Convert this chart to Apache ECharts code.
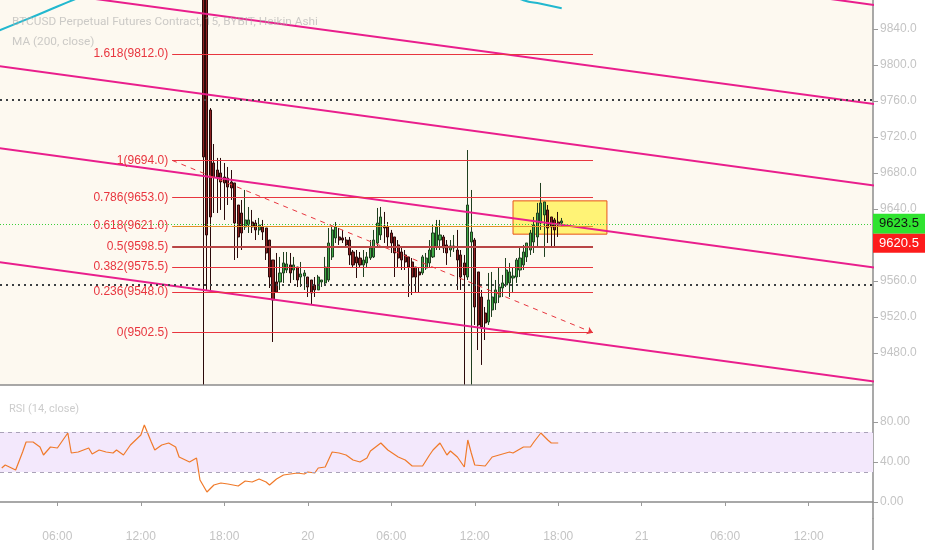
<!DOCTYPE html>
<html><head><meta charset="utf-8">
<script src="https://cdn.jsdelivr.net/npm/echarts@6/dist/echarts.min.js"></script>
<style>html,body{margin:0;padding:0;background:#fff}#c{width:932px;height:550px}</style>
</head><body><div id="c"></div>
<script>
// ---- time axis: 15-minute bars, bar 0 = 19th 02:00 ----
const barCount = 251;
const firstBarMinutes = 120;
const categories = [];
for (let i = 0; i < barCount; i++) {
  const m = firstBarMinutes + 15 * i;
  const day = 19 + Math.floor(m / 1440);
  const hm = m % 1440;
  const h = Math.floor(hm / 60), mi = hm % 60;
  categories.push(hm === 0 ? String(day) : (h < 10 ? '0' : '') + h + ':' + (mi < 10 ? '0' : '') + mi);
}

// ---- Heikin Ashi candles [open, close, low, high], first one at bar 58 ----
const candleFirstBar = 58;
const candles = [
  [9894.4, 9697.8, 9445.0, 9905.5],
  [9883.3, 9611.1, 9550.0, 9894.4],
  [9750.0, 9631.1, 9550.0, 9752.2],
  [9691.1, 9675.5, 9635.5, 9712.2],
  [9683.3, 9675.5, 9635.5, 9696.7],
  [9680.0, 9670.0, 9638.9, 9696.7],
  [9675.5, 9668.9, 9627.8, 9691.1],
  [9674.4, 9664.4, 9644.4, 9686.7],
  [9670.0, 9663.3, 9650.0, 9683.3],
  [9668.9, 9624.4, 9583.3, 9668.9],
  [9644.4, 9608.9, 9585.5, 9644.4],
  [9635.5, 9613.3, 9594.4, 9650.0],
  [9620.0, 9627.8, 9616.7, 9661.1],
  [9622.2, 9627.8, 9613.3, 9642.2],
  [9625.5, 9620.0, 9613.3, 9638.9],
  [9624.4, 9616.7, 9605.5, 9627.8],
  [9616.7, 9622.2, 9611.1, 9630.0],
  [9620.0, 9614.4, 9605.5, 9627.8],
  [9618.9, 9591.1, 9583.3, 9618.9],
  [9605.5, 9564.4, 9552.2, 9605.5],
  [9583.3, 9538.9, 9492.2, 9583.3],
  [9558.9, 9547.8, 9546.7, 9591.1],
  [9558.9, 9568.9, 9550.0, 9586.7],
  [9568.9, 9580.0, 9557.8, 9592.2],
  [9572.2, 9578.9, 9568.9, 9592.2],
  [9577.8, 9568.9, 9557.8, 9591.1],
  [9572.2, 9577.8, 9561.1, 9586.7],
  [9575.5, 9561.1, 9553.3, 9575.5],
  [9564.4, 9567.8, 9553.3, 9581.1],
  [9565.5, 9568.9, 9550.0, 9572.2],
  [9564.4, 9553.3, 9542.2, 9564.4],
  [9561.1, 9546.7, 9533.3, 9561.1],
  [9555.5, 9550.0, 9542.2, 9564.4],
  [9550.0, 9564.4, 9550.0, 9566.7],
  [9558.9, 9561.1, 9553.3, 9561.1],
  [9557.8, 9575.5, 9555.5, 9586.7],
  [9561.1, 9602.2, 9558.9, 9618.9],
  [9586.7, 9616.7, 9583.3, 9620.0],
  [9607.8, 9620.0, 9602.2, 9625.5],
  [9608.9, 9605.5, 9600.0, 9618.9],
  [9607.8, 9605.5, 9602.2, 9616.7],
  [9605.5, 9600.0, 9596.7, 9608.9],
  [9605.5, 9588.9, 9577.8, 9608.9],
  [9592.2, 9577.8, 9575.5, 9594.4],
  [9586.7, 9580.0, 9563.3, 9594.4],
  [9585.5, 9577.8, 9574.4, 9592.2],
  [9577.8, 9583.3, 9564.4, 9594.4],
  [9580.0, 9586.7, 9575.5, 9592.2],
  [9585.5, 9596.7, 9583.3, 9605.5],
  [9586.7, 9605.5, 9585.5, 9616.7],
  [9602.2, 9624.4, 9597.8, 9641.1],
  [9611.1, 9631.1, 9605.5, 9642.2],
  [9621.1, 9618.9, 9602.2, 9636.7],
  [9620.0, 9608.9, 9597.8, 9625.5],
  [9613.3, 9602.2, 9591.1, 9616.7],
  [9608.9, 9591.1, 9564.4, 9608.9],
  [9600.0, 9585.5, 9574.4, 9605.5],
  [9592.2, 9583.3, 9572.2, 9597.8],
  [9588.9, 9581.1, 9572.2, 9594.4],
  [9586.7, 9575.5, 9542.2, 9586.7],
  [9581.1, 9564.4, 9544.4, 9585.5],
  [9575.5, 9564.4, 9546.7, 9575.5],
  [9570.0, 9566.7, 9546.7, 9574.4],
  [9568.9, 9586.7, 9566.7, 9588.9],
  [9574.4, 9585.5, 9572.2, 9591.1],
  [9580.0, 9594.4, 9575.5, 9605.5],
  [9586.7, 9613.3, 9585.5, 9622.2],
  [9597.8, 9620.0, 9594.4, 9627.8],
  [9605.5, 9611.1, 9594.4, 9627.8],
  [9608.9, 9596.7, 9591.1, 9611.1],
  [9600.0, 9591.1, 9577.8, 9605.5],
  [9594.4, 9598.9, 9586.7, 9605.5],
  [9596.7, 9598.9, 9592.2, 9611.1],
  [9594.4, 9583.3, 9550.0, 9616.7],
  [9588.9, 9564.4, 9550.0, 9594.4],
  [9580.0, 9566.7, 9445.0, 9588.9],
  [9564.4, 9644.4, 9561.1, 9705.5],
  [9603.3, 9614.4, 9445.0, 9661.1],
  [9605.5, 9531.1, 9511.1, 9607.8],
  [9570.0, 9511.1, 9483.3, 9570.0],
  [9542.2, 9508.9, 9466.7, 9550.0],
  [9524.4, 9513.3, 9494.4, 9531.1],
  [9514.4, 9538.9, 9511.1, 9568.9],
  [9527.8, 9542.2, 9520.0, 9570.0],
  [9535.5, 9550.0, 9527.8, 9561.1],
  [9542.2, 9553.3, 9535.5, 9575.5],
  [9552.2, 9557.8, 9542.2, 9566.7],
  [9555.5, 9572.2, 9553.3, 9585.5],
  [9557.8, 9570.0, 9542.2, 9580.0],
  [9563.3, 9565.5, 9546.7, 9575.5],
  [9564.4, 9583.3, 9557.8, 9585.5],
  [9572.2, 9585.5, 9564.4, 9596.7],
  [9577.8, 9592.2, 9572.2, 9600.0],
  [9586.7, 9602.2, 9581.1, 9602.2],
  [9594.4, 9613.3, 9588.9, 9616.7],
  [9603.3, 9622.2, 9591.1, 9631.1],
  [9608.9, 9635.5, 9597.8, 9646.7],
  [9624.4, 9646.7, 9616.7, 9668.9],
  [9633.3, 9647.8, 9586.7, 9647.8],
  [9638.9, 9618.9, 9602.2, 9644.4],
  [9631.1, 9620.0, 9597.8, 9631.1],
  [9627.8, 9616.7, 9597.8, 9630.0],
  [9625.5, 9622.2, 9608.9, 9636.7],
  [9624.4, 9626.7, 9620.0, 9630.0]
];

// ---- MA (200) visible pieces: [bar, value] ----
const maBarsA = [-1, 8, 16, 21, 26];
const maValsA = [9838, 9852, 9865, 9873, 9881];
const maBarsB = [146, 150, 155, 161];
const maValsB = [9879, 9872, 9868, 9863];

// ---- RSI (14): [bar, value] ----
const rsiBars = [0,1,4,6,7,9,11,12,14,16,17,19,20,22,25,26,28,30,32,33,35,37,40,41,43,44,46,48,50,51,54,56,57,59,61,63,65,68,70,72,74,76,77,79,81,83,85,87,88,90,91,93,95,97,99,101,103,105,106,109,111,114,116,118,121,123,124,126,128,129,131,133,134,135,136,139,141,143,146,147,150,152,153,155,157,158,160];
const rsiVals = [34,37,32,50,60,60,55,47,55,54,59,69,49,50,54,48,52,50,49,52,47,57,67,77,60,52,57,59,55,45,40,44,22,10,17,19,18,16,21,20,23,20,17,23,27,28,29,28,30,29,34,35,50,49,47,42,40,44,51,59,52,45,42,36,36,47,52,59,47,51,45,35,62,49,37,36,45,47,50,49,55,55,60,69,62,59,59];

// ---- Fibonacci retracement ----
const fibRatios = ['1.618', '1', '0.786', '0.618', '0.5', '0.382', '0.236', '0'];
const fibPrices = [9812.0, 9694.0, 9653.0, 9621.0, 9598.5, 9575.5, 9548.0, 9502.5];
const fibFromBar = 49, fibToBar = 170;

// ---- drawn channel lines (magenta): price at left / right ends ----
const channelFromBar = -1, channelToBar = 251;
const channelStartPrices = [9999.5, 9887.9, 9798.9, 9707.8, 9581.1];
const channelEndPrices = [9866.6, 9756.4, 9666.0, 9574.9, 9448.2];

// ---- horizontal levels, box, last price ----
const dottedLevels = [9761.5, 9556.0];
const boxBars = [147, 174];
const boxPrices = [9649, 9612];
const lastPrice = 9623.5;
const secondPrice = 9620.5;
const priceTicks = [9480, 9520, 9560, 9600, 9640, 9680, 9720, 9760, 9800, 9840];
const rsiTicks = [0, 40, 80];

const gridRight = 59;
const FONT = "'Liberation Sans', Arial, sans-serif";
const TITLEFONT = "Roboto, 'Liberation Sans', sans-serif";

const candleData = categories.map((c, i) => {
  const k = i - candleFirstBar;
  return (k >= 0 && k < candles.length) ? candles[k] : '-';
});
const showLabel = (idx) => (firstBarMinutes + 15 * idx) % 360 === 0;

const fibColors = fibRatios.map(r => r === '0.618' ? '#e3902a' : (r === '0.5' ? '#b94646' : '#e8363f'));
const fibWidths = fibRatios.map(r => r === '0.5' ? 2 : 1);

const series = [];
series.push({
  type: 'line', name: 'ma', xAxisIndex: 0, yAxisIndex: 0, showSymbol: false, smooth: true,
  data: maBarsA.map((b, i) => [b, maValsA[i]]), lineStyle: { color: '#22b8cf', width: 2 }, silent: true
});
series.push({
  type: 'line', name: 'ma2', xAxisIndex: 0, yAxisIndex: 0, showSymbol: false, smooth: true,
  data: maBarsB.map((b, i) => [b, maValsB[i]]), lineStyle: { color: '#22b8cf', width: 2 }, silent: true
});
channelStartPrices.forEach((p, i) => {
  series.push({
    type: 'line', xAxisIndex: 0, yAxisIndex: 0, showSymbol: false, clip: true, silent: true,
    data: [[channelFromBar, p], [channelToBar, channelEndPrices[i]]],
    lineStyle: { color: '#e91e8c', width: 2 }
  });
});
series.push({
  type: 'candlestick', xAxisIndex: 0, yAxisIndex: 0, data: candleData, barWidth: 2.6, clip: true,
  itemStyle: { color: '#3faa47', color0: '#8e2222', borderColor: '#1f3f1f', borderColor0: '#2a0a0a', borderWidth: 1 },
  markArea: {
    silent: true,
    itemStyle: { color: 'rgba(255,240,70,0.72)', borderColor: '#e8541a', borderWidth: 1 },
    data: [[{ coord: [boxBars[0], boxPrices[0]] }, { coord: [boxBars[1], boxPrices[1]] }]]
  },
  markLine: {
    silent: true, symbol: 'none', animation: false,
    data: [
      ...dottedLevels.map(v => ({ yAxis: v, lineStyle: { color: '#3c4043', type: [2, 4], width: 2 }, label: { show: false } })),
      { yAxis: lastPrice, lineStyle: { color: '#3ccf3c', type: [1, 2], width: 1 }, label: { show: false } },
      ...fibPrices.map((p, i) => [
        { coord: [fibFromBar, p], lineStyle: { color: fibColors[i], width: fibWidths[i], type: 'solid' },
          label: { show: true, position: 'start', distance: 4, formatter: fibRatios[i] + '(' + p.toFixed(1) + ')', color: '#e8363f', fontSize: 12, fontFamily: FONT } },
        { coord: [fibToBar, p] }
      ]),
      [
        { coord: [fibFromBar, fibPrices[1]], symbol: 'none', lineStyle: { color: '#e8363f', type: [5, 5], width: 1 }, label: { show: false } },
        { coord: [fibToBar, fibPrices[7]], symbol: 'arrow', symbolSize: 6 }
      ]
    ]
  }
});
series.push({
  type: 'line', xAxisIndex: 1, yAxisIndex: 1, showSymbol: false, silent: true,
  data: rsiBars.map((b, i) => [b, rsiVals[i]]),
  lineStyle: { color: '#f07a2a', width: 1.2 },
  markArea: { silent: true, itemStyle: { color: '#f3e8fc' }, data: [[{ yAxis: 70 }, { yAxis: 30 }]] },
  markLine: {
    silent: true, symbol: 'none', label: { show: false },
    lineStyle: { color: '#aaa2b8', type: [4, 4], width: 1 },
    data: [{ yAxis: 70 }, { yAxis: 30 }]
  }
});

const axisLabelStyle = { color: '#c4c4c4', fontSize: 12, fontFamily: FONT };

const option = {
  animation: false,
  backgroundColor: '#ffffff',
  title: [
    { text: 'BTCUSD Perpetual Futures Contract, 15, BYBIT, Heikin Ashi', left: 7, top: 11,
      textStyle: { color: 'rgba(170,170,170,0.6)', fontSize: 11.8, fontWeight: 'normal', fontFamily: TITLEFONT } },
    { text: 'MA (200, close)', left: 7, top: 31,
      textStyle: { color: 'rgba(170,170,170,0.6)', fontSize: 11.8, fontWeight: 'normal', fontFamily: TITLEFONT } },
    { text: 'RSI (14, close)', left: 4, top: 399,
      textStyle: { color: 'rgba(170,170,170,0.6)', fontSize: 11, fontWeight: 'normal', fontFamily: TITLEFONT } }
  ],
  grid: [
    { left: 0, right: gridRight, top: 0, height: 385, show: true, backgroundColor: '#fdf9f0', borderWidth: 0 },
    { left: 0, right: gridRight, top: 386, height: 132, show: true, backgroundColor: '#ffffff', borderWidth: 0 }
  ],
  xAxis: [
    { type: 'category', gridIndex: 0, data: categories, boundaryGap: true,
      axisLabel: { show: false }, axisTick: { show: false },
      axisLine: { show: true, lineStyle: { color: '#8c8c8c', width: 1.5 } }, splitLine: { show: false } },
    { type: 'category', gridIndex: 1, data: categories, boundaryGap: true,
      axisLine: { show: true, lineStyle: { color: '#8c8c8c', width: 1.5 } },
      axisTick: { show: true, alignWithLabel: true, interval: showLabel, length: 4, lineStyle: { color: '#9a9a9a' } },
      axisLabel: Object.assign({ interval: showLabel, margin: 13 }, axisLabelStyle),
      splitLine: { show: false } }
  ],
  yAxis: [
    { type: 'value', gridIndex: 0, position: 'right', min: 9444.4, max: 9872.2, scale: true,
      axisLine: { show: true, lineStyle: { color: '#8c8c8c', width: 1.5 } },
      axisTick: { show: true, length: 5, lineStyle: { color: '#9a9a9a' }, customValues: priceTicks },
      axisLabel: Object.assign({ margin: 7, customValues: priceTicks, formatter: v => v.toFixed(1) }, axisLabelStyle),
      splitLine: { show: false } },
    { type: 'value', gridIndex: 1, position: 'right', min: -16, max: 116,
      axisLine: { show: true, lineStyle: { color: '#8c8c8c', width: 1.5 } },
      axisTick: { show: true, length: 5, lineStyle: { color: '#9a9a9a' }, customValues: rsiTicks },
      axisLabel: Object.assign({ margin: 7, customValues: rsiTicks, formatter: v => v.toFixed(2) }, axisLabelStyle),
      splitLine: { show: false } }
  ],
  series: series
};

const chart = echarts.init(document.getElementById('c'));
chart.setOption(option);

// last-price tags on the price scale, placed through the price axis
const axisX = chart.getWidth() - gridRight;
const yLast = chart.convertToPixel({ yAxisIndex: 0 }, lastPrice);
chart.setOption({
  graphic: [
    { type: 'line', shape: { x1: axisX, y1: 518, x2: axisX, y2: 550 }, style: { stroke: '#8c8c8c', lineWidth: 1.5 }, silent: true },
    { type: 'rect', shape: { x: axisX, y: yLast - 10, width: 52, height: 20 }, style: { fill: '#2fe32f' }, z: 100, silent: true },
    { type: 'text', x: axisX + 26, y: yLast, style: { text: lastPrice.toFixed(1), fill: '#111', font: '13px ' + FONT, textAlign: 'center', textVerticalAlign: 'middle' }, z: 101, silent: true },
    { type: 'rect', shape: { x: axisX, y: yLast + 10, width: 52, height: 19 }, style: { fill: '#fd1c1c' }, z: 100, silent: true },
    { type: 'text', x: axisX + 26, y: yLast + 19.5, style: { text: secondPrice.toFixed(1), fill: '#fff', font: '13px ' + FONT, textAlign: 'center', textVerticalAlign: 'middle' }, z: 101, silent: true }
  ]
});
</script>
</body></html>
